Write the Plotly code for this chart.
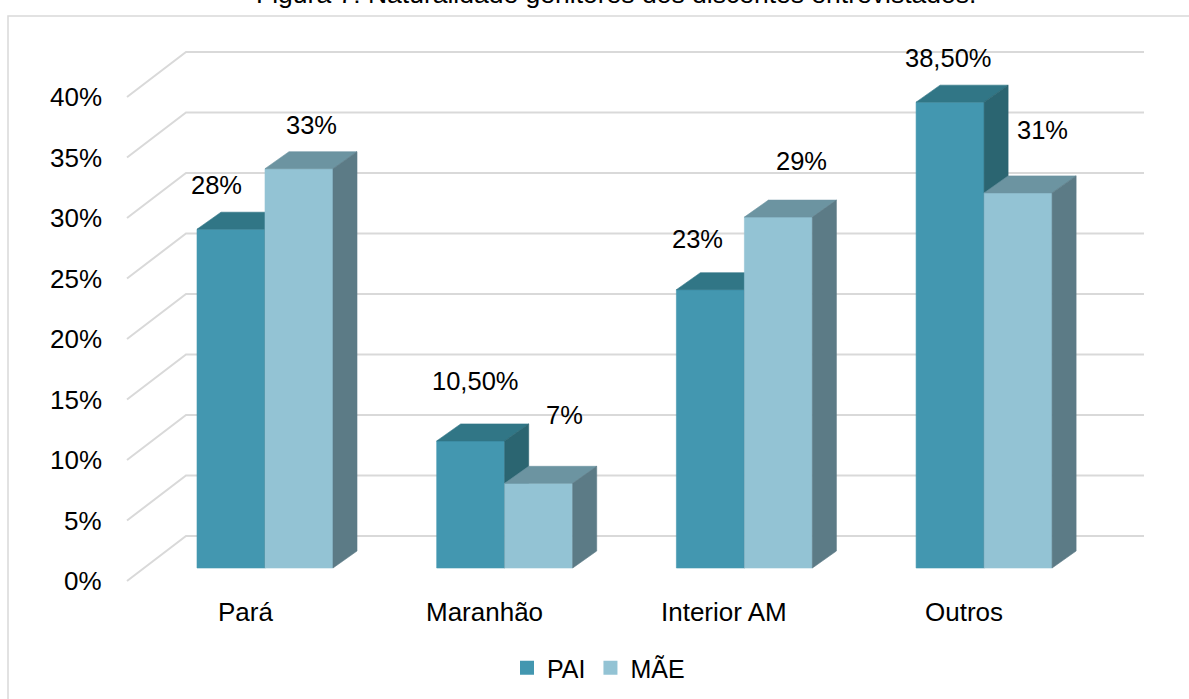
import plotly.graph_objects as go

# ---- data -------------------------------------------------------------
categories = ["Pará", "Maranhão", "Interior AM", "Outros"]
pai = [28, 10.5, 23, 38.5]
mae = [33, 7, 29, 31]
y_ticks = [0, 5, 10, 15, 20, 25, 30, 35, 40]
series_names = ["PAI", "MÃE"]
title_text = "Figura 7: Naturalidade genitores dos discentes entrevistados."

# ---- style ------------------------------------------------------------
W, H = 1189, 699
FONT = "Liberation Sans, Arial, sans-serif"
GRID = "#D9D9D9"
# (front, top, side) colours for each series
COLORS = {
    "PAI": ("#4397B0", "#317686", "#2B6571"),
    "MÃE": ("#93C3D4", "#6C94A1", "#5C7B86"),
}

# oblique-projection geometry (x in category units, y in percent units)
px_per_cat = 239.7
px_per_pct = 12.1
x0_px, y0_px = 265.0, 568.0          # first group centre / bar base in pixels
bar_w = 68 / px_per_cat               # width of one bar front face
bar_dx, bar_dy = 24 / px_per_cat, 17 / px_per_pct      # bar depth
floor_front_y = (y0_px - 581) / px_per_pct             # front edge of floor
floor_back_y = (y0_px - 536) / px_per_pct              # back wall base
wall_left_front_x = (127 - x0_px) / px_per_cat
wall_left_back_x = (186 - x0_px) / px_per_cat
wall_right_x = (1144 - x0_px) / px_per_cat
tick_label_x = (104 - x0_px) / px_per_cat
cat_label_dx = -20 / px_per_cat
cat_label_y = (y0_px - 612) / px_per_pct

# data-label nudges in pixels (dx, dy above the bar's front top edge)
label_shift = {
    "PAI": ([-15, 5, -13, -2], [44, 60, 51, 44]),
    "MÃE": ([12, 26, 23, 24], [44, 68, 56, 63]),
}

x_range = [-x0_px / px_per_cat, (W - x0_px) / px_per_cat]
y_range = [(y0_px - H) / px_per_pct, y0_px / px_per_pct]


def fmt_pct(v):
    if float(v).is_integer():
        return f"{int(v)}%"
    return f"{v:.2f}".replace(".", ",") + "%"


fig = go.Figure()


def poly(xs, ys, color):
    fig.add_trace(go.Scatter(
        x=xs + [xs[0]], y=ys + [ys[0]], mode="lines", fill="toself",
        fillcolor=color, line=dict(color=color, width=0.6),
        hoverinfo="skip", showlegend=False,
    ))


# ---- walls / gridlines ------------------------------------------------
for g in y_ticks:
    fig.add_trace(go.Scatter(
        x=[wall_left_front_x, wall_left_back_x, wall_right_x],
        y=[g + floor_front_y, g + floor_back_y, g + floor_back_y],
        mode="lines", line=dict(color=GRID, width=2),
        hoverinfo="skip", showlegend=False,
    ))

# ---- 3D bars ----------------------------------------------------------
annotations = []
for i, cat in enumerate(categories):
    for s, (name, values) in enumerate(zip(series_names, [pai, mae])):
        v = values[i]
        xl = i - bar_w + s * bar_w
        xr = xl + bar_w
        front, top, side = COLORS[name]
        poly([xl, xr, xr, xl], [0, 0, v, v], front)
        poly([xl, xr, xr + bar_dx, xl + bar_dx], [v, v, v + bar_dy, v + bar_dy], top)
        poly([xr, xr + bar_dx, xr + bar_dx, xr], [0, bar_dy, v + bar_dy, v], side)
        dxs, dys = label_shift[name]
        annotations.append(dict(
            x=(xl + xr) / 2, y=v, xref="x", yref="y", text=fmt_pct(v),
            showarrow=False, xanchor="center", yanchor="middle",
            xshift=dxs[i], yshift=dys[i],
            font=dict(family=FONT, size=25.5, color="#000000"),
        ))
    annotations.append(dict(
        x=i + cat_label_dx, y=cat_label_y, xref="x", yref="y", text=cat,
        showarrow=False, xanchor="center", yanchor="middle",
        font=dict(family=FONT, size=26, color="#000000"),
    ))

# y tick labels on the front edge of the floor planes
for g in y_ticks:
    annotations.append(dict(
        x=tick_label_x, y=g + floor_front_y, xref="x", yref="y",
        text=f"{g}%", showarrow=False, xanchor="right", yanchor="middle",
        font=dict(family=FONT, size=26, color="#000000"),
    ))

# figure caption (sits at the very top edge)
annotations.append(dict(
    x=616 / W, y=1 - 11 / H, xref="paper", yref="paper", text=title_text,
    showarrow=False, xanchor="center", yanchor="bottom",
    font=dict(family=FONT, size=26.5, color="#000000"),
))

# legend entries
for name in series_names:
    fig.add_trace(go.Scatter(
        x=[None], y=[None], mode="markers", name=name,
        marker=dict(symbol="square", size=14, color=COLORS[name][0]),
    ))

fig.update_layout(
    width=W, height=H, autosize=False,
    margin=dict(l=0, r=0, t=0, b=0),
    paper_bgcolor="white", plot_bgcolor="white",
    xaxis=dict(range=x_range, visible=False, fixedrange=True),
    yaxis=dict(range=y_range, visible=False, fixedrange=True),
    annotations=annotations,
    showlegend=True,
    legend=dict(
        orientation="h", x=507 / W, xanchor="left", y=1 - 668 / H, yanchor="middle",
        font=dict(family=FONT, size=25, color="#000000"),
        bgcolor="rgba(0,0,0,0)", itemsizing="trace",
    ),
    shapes=[dict(
        type="rect", xref="paper", yref="paper",
        x0=8 / W, x1=1.02, y0=-0.02, y1=1 - 16 / H,
        line=dict(color=GRID, width=1.5), fillcolor="rgba(0,0,0,0)", layer="below",
    )],
)

fig.write_html("out.html")
